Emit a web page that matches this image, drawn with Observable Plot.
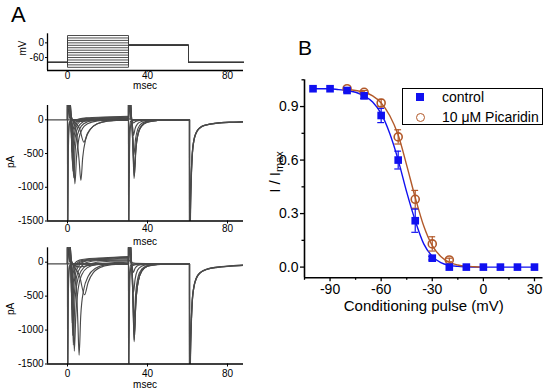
<!DOCTYPE html>
<html><head><meta charset="utf-8">
<script src="https://cdn.jsdelivr.net/npm/d3@7"></script>
<script src="https://cdn.jsdelivr.net/npm/@observablehq/plot@0.6"></script>
<style>
body{margin:0;background:#fff;}
#fig{position:relative;width:550px;height:391px;overflow:hidden;background:#fff;font-family:"Liberation Sans",Arial,sans-serif;color:#000;}
#fig svg{position:absolute;}
.lbl{position:absolute;white-space:nowrap;line-height:1;}
.rot{transform:translate(-50%,-50%) rotate(-90deg);}
</style></head><body><div id="fig"></div>
<script>
// ---------------- Panel B data ----------------
const condV    = [-100,-90,-80,-70,-60,-50,-40,-30,-20,-10,0,10,20,30];
const controlI = [1.0,1.0,0.99,0.96,0.85,0.60,0.26,0.05,0,0,0,0,0,0];
const controlE = [0,0,0.01,0.015,0.04,0.05,0.065,0.01,0,0,0,0,0,0];
const picV     = [-80,-70,-60,-50,-40,-30,-20];
const picI     = [1.0,0.98,0.92,0.73,0.38,0.13,0.04];
const picE     = [0,0.01,0.02,0.04,0.05,0.04,0.01];
const fitCtlV  = [-100,-95,-90,-85,-80,-75,-70,-65,-60,-55,-50,-45,-40,-35,-30,-25,-20,-15,-10,-5,0,10,20,30];
const fitCtlI  = [1.0,1.0,1.0,0.995,0.99,0.98,0.96,0.925,0.86,0.75,0.60,0.42,0.26,0.13,0.06,0.025,0.01,0.004,0.0015,0,0,0,0,0];
const fitPicV  = [-80,-75,-70,-65,-60,-55,-50,-45,-40,-35,-30,-25,-20,-15,-10,-5,0];
const fitPicI  = [0.997,0.99,0.98,0.96,0.92,0.85,0.74,0.57,0.39,0.23,0.12,0.06,0.027,0.012,0.005,0.002,0];
const xTicksB = [-90,-60,-30,0,30], xMinorB = [-105,-75,-45,-15,15];
const yTicksB = [0,0.3,0.6,0.9], yMinorB = [0.15,0.45,0.75,1.05];

// ---------------- Panel A: voltage protocol ----------------
const protoHold = -80, protoTest = -10;
const protoT = [-10, 0, 30.5, 60.5, 88];   // start, cond on, test on, test off, end
const protoTicksX = [0,40,80], protoTicksY = [0,-60];

// ---------------- Panel A: control currents (pA vs msec) ----------------
const ctlPre = [[-10,0],[0,0]];
const ctlCond = [
 [[0,0],[0.05,-2600],[0.4,-500],[0.9,-80],[1.6,-10],[3,0],[30.5,0]],
 [[0,0],[0.05,-1800],[0.4,-300],[0.9,-40],[2,0],[30.5,0]],
 [[0,0],[30.5,0]],
 [[0,0],[0.05,900],[0.5,150],[1.2,20],[2.5,0],[30.5,0]],
 [[0,0],[0.05,1800],[0.5,300],[1.2,40],[2.5,-5],[6,-25],[10,-15],[16,-5],[30.5,0]],
 [[0,0],[0.05,2600],[0.6,450],[1.4,60],[3,-20],[6,-130],[8.2,-330],[10,-200],[13,-90],[18,-30],[24,-8],[30.5,0]],
 [[0,0],[0.05,3000],[0.7,600],[1.6,80],[2.6,0],[4.5,-200],[5.8,-600],[6.7,-900],[7.6,-560],[9,-300],[11.5,-140],[15,-60],[20,-20],[30.5,0]],
 [[0,0],[0.05,3000],[0.8,700],[1.8,80],[2.4,-50],[3.1,-550],[3.7,-950],[4.5,-560],[5.7,-280],[7.5,-130],[10,-60],[15,-15],[22,0],[30.5,8]],
 [[0,0],[0.05,3000],[0.8,800],[1.7,100],[2.1,-100],[2.6,-500],[3.1,-860],[3.8,-470],[5,-220],[7,-90],[10,-30],[15,0],[22,8],[30.5,15]],
 [[0,0],[0.05,3000],[0.8,900],[1.6,120],[1.9,-80],[2.3,-450],[2.7,-760],[3.4,-380],[4.6,-160],[6.5,-60],[10,-5],[16,10],[30.5,22]],
 [[0,0],[0.05,3000],[0.9,1000],[1.5,150],[1.8,-60],[2.1,-350],[2.4,-620],[3.1,-300],[4.2,-120],[6,-30],[9,5],[16,18],[30.5,30]],
 [[0,0],[0.05,3000],[0.9,1100],[1.45,180],[1.7,-40],[2.0,-280],[2.2,-480],[2.9,-230],[4,-80],[6,-10],[10,15],[18,25],[30.5,38]],
 [[0,0],[0.05,3000],[0.9,1200],[1.4,200],[1.65,-20],[1.9,-200],[2.1,-340],[2.7,-160],[3.8,-50],[6,5],[10,22],[18,32],[30.5,45]],
 [[0,0],[0.05,3000],[0.9,1300],[1.35,220],[1.6,0],[1.8,-120],[2.0,-200],[2.6,-90],[3.6,-20],[6,15],[10,30],[18,40],[30.5,52]]
];
const ctlTest = [
 [[30.5,0],[30.55,3000],[31.2,700],[31.9,100],[32.3,-100],[32.8,-500],[33.3,-870],[34.1,-470],[35.3,-210],[37.2,-90],[40,-35],[45,-10],[52,0],[61,0]],
 [[30.5,0],[30.55,3000],[31.2,650],[31.9,90],[32.3,-100],[32.8,-480],[33.4,-835],[34.2,-450],[35.4,-200],[37.3,-85],[40,-33],[45,-10],[52,0],[61,0]],
 [[30.5,0],[30.55,3000],[31.2,600],[31.9,80],[32.3,-90],[32.8,-420],[33.4,-740],[34.2,-400],[35.4,-180],[37.3,-75],[40,-30],[45,-8],[52,0],[61,0]],
 [[30.5,0],[30.55,3000],[31.2,500],[31.9,60],[32.3,-70],[32.8,-300],[33.2,-520],[34,-290],[35.2,-130],[37,-55],[40,-20],[45,-5],[61,0]],
 [[30.5,0],[30.55,2600],[31.1,400],[31.8,40],[32.3,-60],[32.7,-140],[33.0,-230],[33.8,-130],[35,-60],[37,-25],[40,-8],[61,0]],
 [[30.5,8],[30.55,2000],[31,300],[31.7,30],[32.5,-20],[33,-45],[34,-25],[36,-8],[40,0],[61,0]],
 [[30.5,15],[30.55,1000],[31,150],[31.7,10],[33,0],[61,0]],
 [[30.5,22],[31,12],[34,3],[61,0]],
 [[30.5,30],[30.55,-1000],[31,-150],[31.6,-20],[33,0],[61,0]],
 [[30.5,52],[30.55,-3000],[31,-500],[31.6,-80],[32.5,-10],[34,0],[61,0]]
];
const ctlTail = [
 [[61,0],[61.05,-3000],[61.4,-1500],[61.8,-900],[62.4,-500],[63.2,-300],[64.5,-180],[66.5,-110],[70,-70],[76,-45],[82,-35],[88,-30]],
 [[61,0],[61.05,-3000],[61.45,-1450],[61.9,-850],[62.5,-480],[63.4,-280],[64.8,-170],[67,-100],[71,-65],[77,-42],[83,-33],[88,-28]],
 [[61,0],[61.05,-3000],[61.35,-1550],[61.75,-950],[62.3,-540],[63.1,-320],[64.3,-195],[66.2,-120],[69.5,-75],[75,-50],[82,-38],[88,-33]]
];

// ---------------- Panel A: 10 µM Picaridin currents ----------------
const picPre = [[-10,-25],[0,-25]];
const picCond = [
 [[0,-25],[0.05,-2600],[0.4,-500],[0.9,-100],[1.6,-35],[3,-25],[30.5,-25]],
 [[0,-25],[0.05,-1800],[0.4,-320],[0.9,-60],[2,-25],[30.5,-25]],
 [[0,-25],[30.5,-25]],
 [[0,-25],[0.05,900],[0.5,130],[1.2,0],[2.5,-25],[30.5,-25]],
 [[0,-25],[0.05,1800],[0.5,280],[1.2,20],[2.5,-30],[6,-70],[10,-50],[16,-32],[30.5,-25]],
 [[0,-25],[0.05,2600],[0.6,430],[1.4,40],[3,-50],[6,-200],[8.5,-480],[10.3,-300],[13,-150],[18,-60],[24,-32],[30.5,-25]],
 [[0,-25],[0.05,3000],[0.7,600],[1.6,60],[2.6,-20],[4.3,-300],[5.2,-900],[5.8,-1370],[6.6,-800],[8,-420],[10.5,-200],[14,-90],[19,-40],[30.5,-20]],
 [[0,-25],[0.05,3000],[0.8,700],[1.8,60],[2.3,-80],[2.9,-700],[3.4,-1310],[4.2,-750],[5.4,-380],[7.2,-180],[10,-80],[15,-30],[22,-10],[30.5,0]],
 [[0,-25],[0.05,3000],[0.8,800],[1.7,80],[2.1,-120],[2.5,-650],[2.9,-1220],[3.6,-650],[4.8,-300],[6.8,-130],[10,-40],[15,0],[22,15],[30.5,20]],
 [[0,-25],[0.05,3000],[0.8,900],[1.6,100],[1.9,-100],[2.25,-600],[2.6,-1080],[3.3,-520],[4.5,-220],[6.4,-80],[10,0],[16,25],[30.5,35]],
 [[0,-25],[0.05,3000],[0.9,1000],[1.5,130],[1.8,-80],[2.05,-500],[2.35,-900],[3.0,-420],[4.1,-160],[6,-40],[9,15],[16,35],[30.5,50]],
 [[0,-25],[0.05,3000],[0.9,1100],[1.45,160],[1.7,-60],[1.95,-400],[2.2,-700],[2.85,-320],[3.9,-110],[6,-5],[10,30],[18,45],[30.5,62]],
 [[0,-25],[0.05,3000],[0.9,1200],[1.4,180],[1.65,-40],[1.85,-280],[2.05,-500],[2.65,-220],[3.7,-60],[6,15],[10,40],[18,55],[30.5,72]],
 [[0,-25],[0.05,3000],[0.9,1300],[1.35,200],[1.6,-10],[1.8,-180],[1.95,-320],[2.55,-130],[3.5,-20],[6,30],[10,50],[18,65],[30.5,82]]
];
const picTest = [
 [[30.5,-25],[30.55,3000],[31.2,700],[31.9,80],[32.3,-150],[32.8,-650],[33.3,-1170],[34.1,-630],[35.3,-290],[37.2,-130],[40,-60],[45,-35],[52,-27],[61,-25]],
 [[30.5,-25],[30.55,3000],[31.2,650],[31.9,70],[32.3,-150],[32.8,-640],[33.35,-1150],[34.15,-620],[35.35,-285],[37.2,-128],[40,-58],[45,-34],[52,-27],[61,-25]],
 [[30.5,-25],[30.55,3000],[31.2,600],[31.9,60],[32.3,-140],[32.8,-600],[33.4,-1075],[34.2,-580],[35.4,-270],[37.3,-120],[40,-55],[45,-33],[52,-27],[61,-25]],
 [[30.5,-25],[30.55,3000],[31.2,500],[31.9,40],[32.3,-120],[32.8,-480],[33.3,-855],[34.1,-460],[35.3,-215],[37.2,-100],[40,-48],[45,-30],[61,-25]],
 [[30.5,-25],[30.55,2600],[31.1,400],[31.8,20],[32.2,-100],[32.6,-280],[33,-445],[33.8,-250],[35,-120],[37,-60],[40,-35],[61,-25]],
 [[30.5,0],[30.55,2000],[31,300],[31.7,10],[32.4,-80],[32.9,-150],[33.8,-90],[35.5,-45],[40,-28],[61,-25]],
 [[30.5,20],[30.55,1200],[31,150],[31.7,-10],[32.5,-40],[33,-47],[34,-35],[37,-27],[61,-25]],
 [[30.5,35],[31,20],[34,-15],[61,-25]],
 [[30.5,50],[30.55,-1200],[31,-180],[31.6,-40],[33,-25],[61,-25]],
 [[30.5,82],[30.55,-3000],[31,-500],[31.6,-90],[32.5,-35],[34,-25],[61,-25]]
];
const picTail = [
 [[61,-25],[61.05,-3000],[61.4,-1500],[61.8,-950],[62.4,-560],[63.2,-360],[64.5,-230],[66.5,-150],[70,-100],[76,-70],[82,-55],[88,-45]],
 [[61,-25],[61.05,-3000],[61.45,-1450],[61.9,-900],[62.5,-530],[63.4,-340],[64.8,-215],[67,-140],[71,-95],[77,-66],[83,-52],[88,-43]],
 [[61,-25],[61.05,-3000],[61.35,-1550],[61.75,-1000],[62.3,-600],[63.1,-380],[64.3,-245],[66.2,-160],[69.5,-108],[75,-75],[82,-58],[88,-48]]
];
const currentTicksY = [0,-500,-1000,-1500];
const timeTicks = [0,40,80];

// ---------------- build ----------------
const fig = document.getElementById("fig");
const FONT = "'Liberation Sans', Arial, sans-serif";
const tDomain = [-10, 88];
const traceCol = "#4a4a4a";

function rows(traces, key) {
  return traces.flatMap((tr, k) => tr.map(([t, i]) => ({t, i, k: key + k})));
}
function place(svg, left, top) { svg.style.left = left + "px"; svg.style.top = top + "px"; fig.appendChild(svg); }
function label(html, x, y, size, rot) {
  const d = document.createElement("div");
  d.className = "lbl" + (rot ? " rot" : "");
  d.style.left = x + "px"; d.style.top = y + "px"; d.style.fontSize = size + "px";
  if (!rot) d.style.transform = "translate(-50%,-50%)";
  d.innerHTML = html; fig.appendChild(d);
}

// --- protocol plot ---
const protoRows = condV.flatMap((v, k) => [
  [protoT[0], protoHold], [protoT[1], protoHold], [protoT[1], v], [protoT[2], v],
  [protoT[2], protoTest], [protoT[3], protoTest], [protoT[3], protoHold], [protoT[4], protoHold]
].map(([t, mv], j) => ({t, mv, k, j})));
const protoDom = [-113, 37];
place(Plot.plot({
  width: 250, height: 95, marginLeft: 47, marginRight: 7, marginTop: 33.3, marginBottom: 25,
  x: {domain: tDomain}, y: {domain: protoDom},
  style: {background: "transparent", overflow: "visible", fontFamily: FONT, fontSize: "10px", color: "#000"},
  marks: [
    Plot.line(protoRows, {x: "t", y: "mv", z: "k", stroke: "#3a3a3a", strokeWidth: 0.9}),
    Plot.ruleX([tDomain[0]], {stroke: "#000", strokeWidth: 1.3}),
    Plot.ruleY([protoDom[0]], {stroke: "#000", strokeWidth: 1.3}),
    Plot.axisX({ticks: protoTicksX, tickSize: 1.5, tickPadding: 0, tickFormat: d => String(d), label: null, fontSize: 10}),
    Plot.axisY({ticks: protoTicksY, tickSize: 2, tickPadding: 1.5, tickFormat: d => String(d), label: null, fontSize: 10})
  ]
}), 0, 0);
label("mV", 23, 48, 10, true);
label("msec", 145, 86.3, 10, false);

// --- current plots ---
function currentPlot(pre, cond, test, tail, height, mt, mb, yDom, tickPad) {
  const data = [...rows([pre], "p"), ...rows(cond, "c"), ...rows(test, "t")];
  const tailData = rows(tail, "x");
  return Plot.plot({
    width: 250, height, marginLeft: 47, marginRight: 7, marginTop: mt, marginBottom: mb,
    x: {domain: tDomain}, y: {domain: yDom},
    style: {background: "transparent", overflow: "visible", fontFamily: FONT, fontSize: "10px", color: "#000"},
    marks: [
      Plot.line(data, {x: "t", y: "i", z: "k", stroke: traceCol, strokeWidth: 1.15, curve: "monotone-x", clip: true}),
      Plot.line(tailData, {x: "t", y: "i", z: "k", stroke: traceCol, strokeWidth: 1.3, curve: "monotone-x", clip: true}),
      Plot.ruleX([tDomain[0]], {stroke: "#000", strokeWidth: 1.3}),
      Plot.ruleY([yDom[0]], {stroke: "#000", strokeWidth: 1.3}),
      Plot.axisX({ticks: timeTicks, tickSize: 3, tickPadding: tickPad, tickFormat: d => String(d), label: null, fontSize: 10}),
      Plot.axisY({ticks: currentTicksY, tickSize: 2, tickPadding: 2, tickFormat: d => String(d), label: null, fontSize: 10})
    ]
  });
}
place(currentPlot(ctlPre, ctlCond, ctlTest, ctlTail, 150, 10, 24.5, [-1500, 212], 1), 0, 95);
label("pA", 11, 162, 10, true);
label("msec", 145, 242, 10, false);
place(currentPlot(picPre, picCond, picTest, picTail, 151, 7.3, 27.5, [-1500, 212], 2.5), 0, 240);
label("pA", 11, 309, 10, true);
label("msec", 145, 384.5, 10, false);

// --- panel B ---
const ctlRows = condV.map((v, i) => ({v, y: controlI[i], e: controlE[i]}));
const picRows = picV.map((v, i) => ({v, y: picI[i], e: picE[i]}));
const fitCtl = fitCtlV.map((v, i) => ({v, y: fitCtlI[i]}));
const fitPic = fitPicV.map((v, i) => ({v, y: fitPicI[i]}));
const BLUE = "#1010f0", BROWN = "#b2592a";
const xDomB = [-105, 35], yDomB = [-0.06, 1.05];
const cap = 2;
function errMarks(data, color) {
  const d = data.filter(r => r.e > 0);
  return [
    Plot.ruleX(d, {x: "v", y1: r => r.y - r.e, y2: r => r.y + r.e, stroke: color, strokeWidth: 1.2}),
    Plot.ruleY(d, {y: r => r.y + r.e, x1: r => r.v - cap, x2: r => r.v + cap, stroke: color, strokeWidth: 1.2}),
    Plot.ruleY(d, {y: r => r.y - r.e, x1: r => r.v - cap, x2: r => r.v + cap, stroke: color, strokeWidth: 1.2})
  ];
}
place(Plot.plot({
  width: 300, height: 391, marginLeft: 54, marginRight: 7.5, marginTop: 79.3, marginBottom: 113.7,
  x: {domain: xDomB}, y: {domain: yDomB},
  style: {background: "transparent", overflow: "visible", fontFamily: FONT, fontSize: "14px", color: "#000"},
  marks: [
    Plot.line(fitCtl, {x: "v", y: "y", stroke: BLUE, strokeWidth: 1.4, curve: "monotone-x"}),
    Plot.line(fitPic, {x: "v", y: "y", stroke: BROWN, strokeWidth: 1.4, curve: "monotone-x"}),
    ...errMarks(picRows, BROWN),
    ...errMarks(ctlRows, BLUE),
    Plot.dot(picRows, {x: "v", y: "y", r: 4, stroke: BROWN, strokeWidth: 1.6, fill: "none"}),
    Plot.dot(ctlRows, {x: "v", y: "y", r: 4.3, symbol: "square", fill: BLUE, stroke: "none"}),
    Plot.ruleX([xDomB[0]], {stroke: "#000", strokeWidth: 1.6}),
    Plot.ruleY([yDomB[0]], {stroke: "#000", strokeWidth: 1.6}),
    Plot.axisX({ticks: xTicksB, tickSize: 4, tickPadding: 2, tickFormat: d => String(d), label: null, fontSize: 14, strokeWidth: 1.3}),
    Plot.axisX({ticks: xMinorB, tickSize: 2.5, tickFormat: () => "", label: null, strokeWidth: 1.3}),
    Plot.axisY({ticks: yTicksB, tickSize: 4, tickPadding: 2, tickFormat: d => d.toFixed(1), label: null, fontSize: 14, strokeWidth: 1.3}),
    Plot.axisY({ticks: yMinorB, tickSize: 2.5, tickFormat: () => "", label: null, strokeWidth: 1.3}),
    Plot.text(["Conditioning pulse (mV)"], {frameAnchor: "bottom", dy: 33, text: d => d, fontSize: 15})
  ]
}), 250, 0);
label("I / I<sub style='font-size:11px;vertical-align:-3px'>max</sub>", 276, 172, 15, true);

// legend
const lg = document.createElement("div");
lg.style.cssText = "position:absolute;left:402px;top:88px;width:139px;height:35px;border:1.5px solid #000;box-sizing:content-box;";
fig.appendChild(lg);
const sq = document.createElement("div");
sq.style.cssText = `position:absolute;left:416px;top:92.5px;width:8px;height:8px;background:${BLUE};`;
fig.appendChild(sq);
const ci = document.createElement("div");
ci.style.cssText = `position:absolute;left:415.5px;top:112.5px;width:9px;height:9px;border:1.6px solid ${BROWN};border-radius:50%;box-sizing:border-box;`;
fig.appendChild(ci);
const t1 = document.createElement("div"); t1.className = "lbl";
t1.style.cssText += "left:442px;top:90px;font-size:14px;"; t1.textContent = "control"; fig.appendChild(t1);
const t2 = document.createElement("div"); t2.className = "lbl";
t2.style.cssText += "left:442px;top:110px;font-size:14px;"; t2.textContent = "10 μM Picaridin"; fig.appendChild(t2);

// panel letters
const A = document.createElement("div"); A.className = "lbl";
A.style.cssText += "left:11px;top:4px;font-size:22px;"; A.textContent = "A"; fig.appendChild(A);
const B = document.createElement("div"); B.className = "lbl";
B.style.cssText += "left:298px;top:37px;font-size:21px;"; B.textContent = "B"; fig.appendChild(B);
</script>
</body></html>
